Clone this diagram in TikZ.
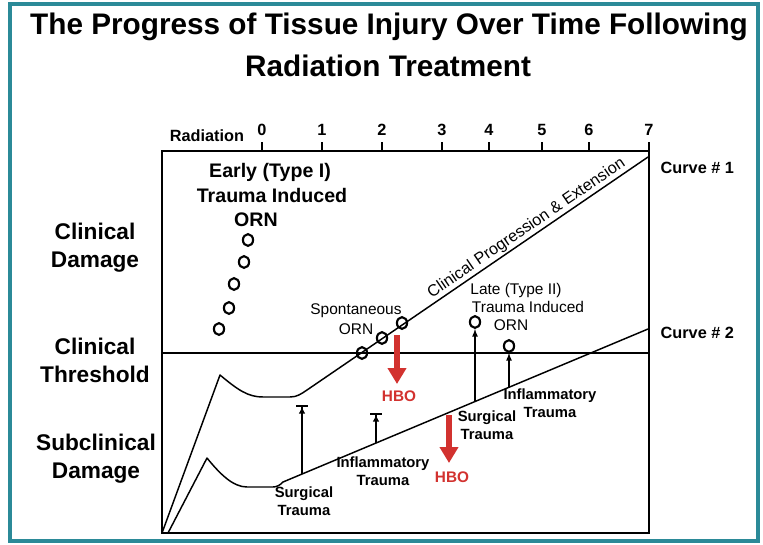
\documentclass[tikz,border=0pt]{standalone}
\usepackage{fontspec}
\setmainfont{Liberation Sans}
\usetikzlibrary{arrows.meta,shapes.geometric}
\definecolor{frameteal}{HTML}{2B8A98}
\definecolor{hbored}{HTML}{D2322F}

\begin{document}
\begin{tikzpicture}[x=0.75pt,y=-0.75pt,>=latex,
  lbl/.style={font=\fontsize{11.6}{14}\selectfont},
  blbl/.style={font=\fontsize{11.1}{13.8}\selectfont\bfseries,align=center},
  bigl/.style={font=\fontsize{14.7}{17}\selectfont\bfseries},
  side/.style={font=\fontsize{17}{21}\selectfont\bfseries,align=center},
  axl/.style={font=\fontsize{12.2}{14}\selectfont\bfseries},
  orn/.style={draw,ellipse,line width=1.6pt,minimum width=7.6pt,minimum height=8.8pt,inner sep=0pt},
  curve/.style={line width=1.1pt,line join=round},
  hbo/.style={hbored,line width=4.3pt,-{Triangle[width=13.5pt,length=12pt]}},
  hbol/.style={text=hbored,font=\fontsize{11.5}{14}\selectfont\bfseries},
  rise/.style={line width=1pt,-{Latex[length=5pt,width=5pt]Bar[width=9pt,line width=1.4pt]}}]
\useasboundingbox (0,0) rectangle (763,544);
\draw[frameteal,line width=3pt] (10,4) rectangle (758,541);

\node[font=\fontsize{22.3}{27}\selectfont\bfseries] (title1) at (389,27) {The Progress of Tissue Injury Over Time Following};
\node[font=\fontsize{22.3}{27}\selectfont\bfseries] (title2) at (388,66) {Radiation Treatment};

\node[side] (cdam) at (95,248) {Clinical\\Damage};
\node[side] (cthr) at (95,360) {Clinical\\Threshold};
\node[side] (sdam) at (96,459) {Subclinical\\Damage};

% axes
\draw[line width=1.5pt] (162,151) rectangle (649,533);
\node[axl] (rad) at (207,136) {Radiation};
\foreach \t/\x in {0/262,1/322,2/382,3/442,4/489,5/542,6/589,7/649}
{
  \draw[line width=1.2pt] (\x,142) -- (\x,151);
  \node[axl] (tick\t) at (\x,130) {\t};
}
\draw[line width=1.1pt] (162,353) -- (649,353);

% the two curves
\draw[curve] (162,533) -- (220,375) .. controls (238,390) and (248,397) .. (263,397) -- (290,397)
  .. controls (297,397) and (301,394) .. (307,390)
  -- node[sloped,above,inner sep=1pt,pos=0.66,font=\fontsize{12.2}{14}\selectfont] (prog) {Clinical Progression \& Extension} (648,157);
\draw[curve] (168,533) -- (207,458) .. controls (220,474) and (233,487) .. (247,487) -- (273,487)
  .. controls (277,487) and (280,485) .. (283,482) -- (648,329);
\node[axl,anchor=west] (curve1) at (656,168) {Curve \# 1};
\node[axl,anchor=west] (curve2) at (656,333) {Curve \# 2};

% early ORN
\node[bigl] (early1) at (270,172) {Early (Type I)};
\node[bigl] (early2) at (272,195) {Trauma Induced};
\node[bigl] (early3) at (256,220) {ORN};
\foreach \i/\p in {1/{(248,240)},2/{(244,262)},3/{(234,284)},4/{(229,308)},5/{(219,329)}}
  \node[orn] (e\i) at \p {};

% spontaneous ORN
\node[lbl] (spont1) at (356,311) {Spontaneous};
\node[lbl] (spont2) at (356,329) {ORN};
\node[orn] (sp1) at (362,353) {};
\node[orn] (sp2) at (382,338) {};
\node[orn] (sp3) at (402,323) {};

% late ORN
\node[lbl] (late1) at (516,290) {Late (Type II)};
\node[lbl] (late2) at (528,307) {Trauma Induced};
\node[lbl] (late3) at (511,325) {ORN};
\node[orn] (lo1) at (475,322) {};
\node[orn] (lo2) at (509,346) {};

% trauma labels
\node[blbl] (surg1) at (304,501) {Surgical\\Trauma};
\node[blbl] (infl1) at (383,471) {Inflammatory\\Trauma};
\node[blbl] (surg2) at (487,425) {Surgical\\Trauma};
\node[blbl] (infl2) at (550,403) {Inflammatory\\Trauma};

\coordinate (s1) at (302,474);
\coordinate (s1top) at (302,405);
\coordinate (i1) at (376,443);
\coordinate (i1top) at (376,413);
\coordinate (s2) at (475,402);
\coordinate (i2) at (509,387);
\draw[rise] (s1) -- (s1top);
\draw[rise] (i1) -- (i1top);
\draw[line width=1pt,->] (s2) -- (lo1.south);
\draw[line width=1pt,->] (i2) -- (lo2.south);

% HBO
\coordinate (h1) at (397,335);
\coordinate (h1end) at (397,384);
\coordinate (h2) at (449,415);
\coordinate (h2end) at (449,463);
\draw[hbo] (h1) -- (h1end);
\draw[hbo] (h2) -- (h2end);
\node[hbol] (hbo1) at (399,396) {HBO};
\node[hbol] (hbo2) at (452,477) {HBO};
\end{tikzpicture}
\end{document}
